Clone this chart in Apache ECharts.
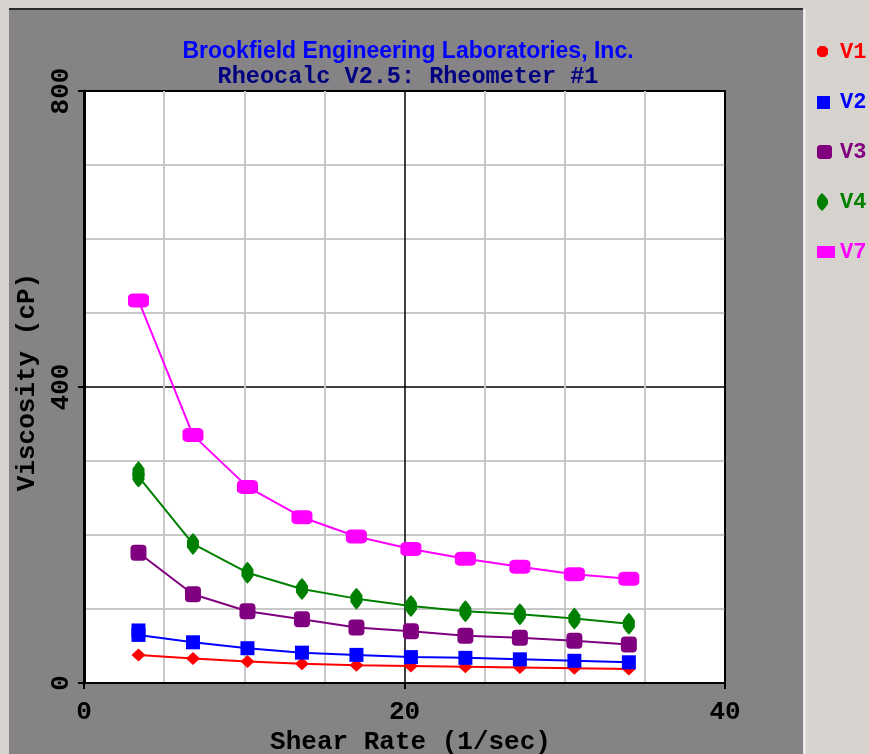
<!DOCTYPE html>
<html>
<head>
<meta charset="utf-8">
<script src="https://cdn.jsdelivr.net/npm/echarts@6/dist/echarts.min.js"></script>
<style>
  html, body { margin: 0; padding: 0; background: #d6d3ce; }
  #chart { width: 869px; height: 754px; }
</style>
</head>
<body>
<div id="chart"></div>
<script>
// shear rate (1/sec) for each reading
const shearRate = [3.4, 6.8, 10.2, 13.6, 17.0, 20.4, 23.8, 27.2, 30.6, 34.0];
// viscosity (cP) per run
const v1 = [38, 33, 29, 26, 24, 23, 22, 21, 20, 19];
const v2 = [71, 55, 47, 41, 38, 35, 34, 32, 30, 28];
const v3 = [176, 120, 97, 86, 75, 70, 64, 61, 57, 52];
const v4 = [285, 188, 149, 127, 114, 104, 97, 93, 87, 80];
const v7 = [517, 335, 265, 224, 198, 181, 168, 157, 147, 141];
// a second reading taken at the first speed (doubled marker)
const v2Repeat = 65;
const v4Repeat = 279;

const seriesNames = ['V1', 'V2', 'V3', 'V4', 'V7'];
const seriesColors = ['#ff0000', '#0000ff', '#800080', '#008000', '#ff00ff'];
const xTicks = [0, 20, 40];
const yTicks = [0, 400, 800];

const monoFont = '"Liberation Mono", "Courier New", monospace';
const diamondTall = 'path://M5,0 L7.5,3 L10,7 L10,13 L7.5,17 L5,20 L2.5,17 L0,13 L0,7 L2.5,3 Z';

// legend icons drawn inside an 18x18 box (first two moves fix the box)
const legendIcons = [
  'path://M0,0 M18,18 M3,3 L8,3 L11,6 L11,11 L8,14 L3,14 L0,11 L0,6 Z',
  'path://M0,0 M18,18 M0,3 L13,3 L13,16 L0,16 Z',
  'path://M0,0 M18,18 M2,2 L13,2 L15,4 L15,14 L13,16 L2,16 L0,14 L0,4 Z',
  'path://M0,0 M18,18 M5,0 L8,3 L11,7 L11,11 L8,15 L5,18 L2,15 L0,11 L0,7 L2,3 Z',
  'path://M0,0 M18,18 M0,3 L18,3 L18,15 L0,15 Z'
];

function pairs(values, repeat) {
  const out = shearRate.map((x, i) => [x, values[i]]);
  if (repeat !== undefined) out.splice(1, 0, [shearRate[0], repeat]);
  return out;
}

const chart = echarts.init(document.getElementById('chart'), null, { renderer: 'canvas' });

const markers = [
  { symbol: 'diamond', size: [14, 13] },
  { symbol: 'rect', size: [14, 14] },
  { symbol: 'roundRect', size: [16, 16] },
  { symbol: diamondTall, size: [12, 22] },
  { symbol: 'roundRect', size: [21, 14] }
];
const dataSets = [pairs(v1), pairs(v2, v2Repeat), pairs(v3), pairs(v4, v4Repeat), pairs(v7)];

const option = {
  animation: false,
  backgroundColor: '#d6d3ce',
  graphic: [
    { type: 'rect', z: -10, shape: { x: 9, y: 9, width: 794, height: 745 }, style: { fill: '#868386' } },
    { type: 'line', z: -9, shape: { x1: 9, y1: 9, x2: 803, y2: 9 }, style: { stroke: '#2b2b2b', lineWidth: 2 } },
    { type: 'line', z: -9, shape: { x1: 804.5, y1: 9, x2: 804.5, y2: 754 }, style: { stroke: '#f2f2f2', lineWidth: 2 } }
  ],
  title: {
    text: 'Brookfield Engineering Laboratories, Inc.',
    subtext: 'Rheocalc V2.5: Rheometer #1',
    left: 403,
    textAlign: 'center',
    top: 35,
    itemGap: 2,
    textStyle: { color: '#0000ff', fontFamily: '"Liberation Sans Narrow", "Liberation Sans", Arial', fontWeight: 'bold', fontSize: 23 },
    subtextStyle: { color: '#000080', fontFamily: monoFont, fontWeight: 'bold', fontSize: 23.5 }
  },
  legend: {
    orient: 'vertical',
    left: 812,
    top: 36,
    itemGap: 28,
    itemWidth: 18,
    itemHeight: 18,
    textStyle: { fontFamily: monoFont, fontWeight: 'bold', fontSize: 22 },
    data: seriesNames.map((name, i) => ({
      name: name,
      icon: legendIcons[i],
      textStyle: { color: seriesColors[i] }
    }))
  },
  grid: {
    left: 84, top: 91, width: 641, height: 592,
    outerBoundsMode: 'none',
    show: true, backgroundColor: '#ffffff', borderColor: '#000', borderWidth: 2
  },
  xAxis: {
    type: 'value', min: 0, max: 40, interval: 20,
    name: 'Shear Rate (1/sec)', nameLocation: 'middle', nameGap: 43,
    nameTextStyle: { color: '#000', fontFamily: monoFont, fontWeight: 'bold', fontSize: 26, padding: [0, 0, 0, 12] },
    axisLine: { show: true, onZero: false, lineStyle: { color: '#000', width: 2 } },
    axisTick: { show: true, length: 6, lineStyle: { color: '#000', width: 2 } },
    axisLabel: {
      margin: 16, color: '#000', fontFamily: monoFont, fontWeight: 'bold', fontSize: 26,
      formatter: v => (xTicks.includes(v) ? String(v) : '')
    },
    splitLine: { show: true, lineStyle: { color: '#000', width: 1.5 } },
    minorTick: { show: false, splitNumber: 4 },
    minorSplitLine: { show: true, lineStyle: { color: '#c8c8c8', width: 2 } }
  },
  yAxis: {
    type: 'value', min: 0, max: 800, interval: 400,
    name: 'Viscosity (cP)', nameLocation: 'middle', nameGap: 44, nameRotate: 90,
    nameTextStyle: { color: '#000', fontFamily: monoFont, fontWeight: 'bold', fontSize: 26, padding: [0, 0, 0, 10] },
    axisLine: { show: true, onZero: false, lineStyle: { color: '#000', width: 3 } },
    axisTick: { show: true, length: 6, lineStyle: { color: '#000', width: 2 } },
    axisLabel: {
      rotate: 90, margin: 10, color: '#000', fontFamily: monoFont, fontWeight: 'bold', fontSize: 26,
      showMinLabel: true, showMaxLabel: true,
      formatter: v => (yTicks.includes(v) ? String(v) : '')
    },
    splitLine: { show: true, lineStyle: { color: '#000', width: 1.5 } },
    minorTick: { show: false, splitNumber: 4 },
    minorSplitLine: { show: true, lineStyle: { color: '#c8c8c8', width: 2 } }
  },
  series: seriesNames.map((name, i) => ({
    name: name,
    type: 'line',
    data: dataSets[i],
    symbol: markers[i].symbol,
    symbolSize: markers[i].size,
    showAllSymbol: true,
    color: seriesColors[i],
    itemStyle: { color: seriesColors[i] },
    lineStyle: { color: seriesColors[i], width: 2 },
    emphasis: { disabled: true }
  }))
};

chart.setOption(option);
</script>
</body>
</html>
